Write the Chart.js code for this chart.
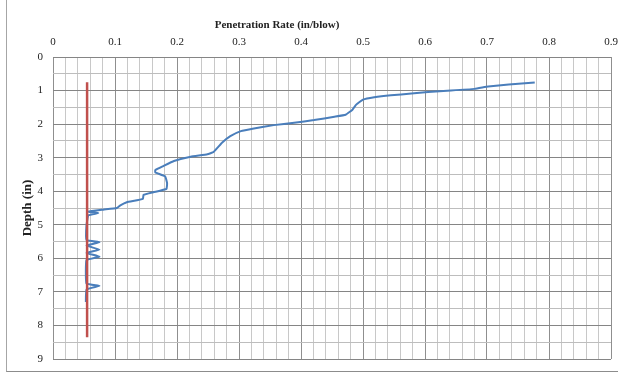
<!DOCTYPE html>
<html>
<head>
<meta charset="utf-8">
<script src="https://cdn.jsdelivr.net/npm/chart.js@4.4.0/dist/chart.umd.min.js"></script>
<style>
  html, body { margin: 0; padding: 0; background: #fff; }
  #wrap { position: relative; width: 618px; height: 373px; }
  #frame { position: absolute; left: 6px; top: -2px; width: 620px; height: 374px; border-left: 1px solid #a6a6a6; border-bottom: 1px solid #8c8c8c; box-sizing: border-box; }
  canvas { position: absolute; left: 0; top: 0; }
</style>
</head>
<body>
<div id="wrap">
  <div id="frame"></div>
  <canvas id="graficoPenetracion" width="618" height="373"></canvas>
</div>
<script>
// blue trace: penetration rate (in/blow) vs depth (in)
const rateBlue = [0.777, 0.735, 0.702, 0.680, 0.642, 0.605, 0.578, 0.545, 0.518, 0.500,
  0.489, 0.483, 0.472, 0.454, 0.421, 0.389, 0.356, 0.324, 0.303, 0.286,
  0.273, 0.259, 0.249, 0.222, 0.195, 0.178, 0.165, 0.165, 0.181, 0.184,
  0.183, 0.162, 0.146, 0.145, 0.119, 0.108, 0.103, 0.081, 0.057, 0.073,
  0.057, 0.054, 0.054, 0.075, 0.054, 0.075, 0.054, 0.075, 0.054, 0.054,
  0.075, 0.054, 0.053];
const depthBlue = [0.76, 0.82, 0.88, 0.95, 1.00, 1.04, 1.09, 1.14, 1.20, 1.27,
  1.42, 1.57, 1.72, 1.78, 1.88, 1.96, 2.03, 2.13, 2.21, 2.36,
  2.55, 2.83, 2.90, 2.97, 3.10, 3.25, 3.37, 3.44, 3.56, 3.76,
  3.93, 4.03, 4.11, 4.23, 4.33, 4.43, 4.50, 4.55, 4.61, 4.65,
  4.72, 5.02, 5.45, 5.52, 5.62, 5.74, 5.84, 5.95, 6.05, 6.75,
  6.82, 6.93, 7.30];

// red reference line
const rateRed = [0.055, 0.055];
const depthRed = [0.75, 8.35];

const serif = "'Liberation Serif', 'Times New Roman', serif";

const isTenth = v => Math.abs(v * 10 - Math.round(v * 10)) < 1e-6;
const isWhole = v => Math.abs(v - Math.round(v)) < 1e-6;

// axis title for the top axis, drawn where the original places it
const topTitle = {
  id: "topTitle",
  afterDraw(chart) {
    const c = chart.ctx;
    c.save();
    c.font = "bold 11px " + serif;
    c.fillStyle = "#222";
    c.textAlign = "center";
    c.textBaseline = "middle";
    c.fillText("Penetration Rate (in/blow)", 277, 25);
    c.restore();
  }
};

const ctxPen = document.getElementById("graficoPenetracion").getContext("2d");
new Chart(ctxPen, {
  type: "scatter",
  data: {
    datasets: [
      {
        label: "Referencia",
        data: rateRed.map((r, i) => ({ x: r, y: depthRed[i] })),
        showLine: true,
        borderColor: "#c0504d",
        borderWidth: 2.5,
        pointRadius: 0,
      },
      {
        label: "Penetración",
        data: rateBlue.map((r, i) => ({ x: r, y: depthBlue[i] })),
        showLine: true,
        borderColor: "#4a7ebb",
        borderWidth: 2,
        pointRadius: 0,
        tension: 0.1,
      },
    ],
  },
  options: {
    responsive: false,
    animation: false,
    layout: { padding: { left: 0, right: 7, top: 0, bottom: 14 } },
    plugins: {
      legend: { display: false },
      tooltip: { enabled: false }
    },
    scales: {
      x: {
        type: "linear",
        position: "top",
        min: 0,
        max: 0.9,
        afterFit: s => { s.height = 57; s.paddingLeft = 0; s.paddingRight = 0; },
        border: { display: false },
        grid: {
          drawTicks: false,
          color: c => isTenth(c.tick.value) ? "#8f8f8f" : "#c8c8c8",
          lineWidth: 1
        },
        ticks: {
          stepSize: 0.02,
          autoSkip: false,
          maxRotation: 0,
          padding: 8,
          color: "#222",
          font: { family: serif, size: 11 },
          callback: v => isTenth(v) ? String(Math.round(v * 10) / 10) : ""
        }
      },
      y: {
        type: "linear",
        reverse: true,
        min: 0,
        max: 9,
        afterFit: s => { s.width = 53; s.paddingTop = 0; s.paddingBottom = 0; },
        border: { display: false },
        title: {
          display: true,
          text: "Depth (in)",
          color: "#222",
          font: { family: serif, size: 13, weight: "bold" },
          padding: { top: 20, bottom: 0 }
        },
        grid: {
          drawTicks: false,
          color: c => isWhole(c.tick.value) ? "#858585" : "#bdbdbd",
          lineWidth: 1
        },
        ticks: {
          stepSize: 0.5,
          autoSkip: false,
          padding: 10,
          color: "#222",
          font: { family: serif, size: 11 },
          callback: v => isWhole(v) ? String(Math.round(v)) : ""
        }
      }
    }
  },
  plugins: [topTitle]
});
</script>
</body>
</html>
